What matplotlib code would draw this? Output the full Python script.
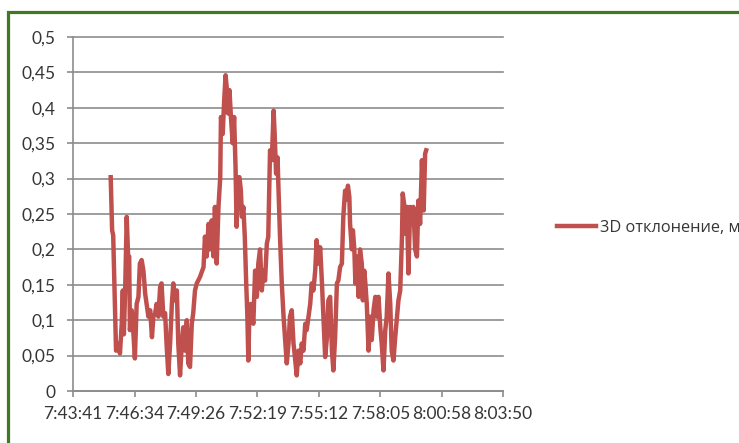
import matplotlib
matplotlib.use('Agg')
import matplotlib.pyplot as plt
from matplotlib.patches import Rectangle

plt.rcParams['font.family'] = ['Lato', 'Noto Sans', 'DejaVu Sans']

# time in seconds after 7:43:41
t_sec = [106, 110, 113, 118, 121, 128, 132, 137, 140, 143, 147, 151, 155, 158, 160, 165, 170, 174, 179, 184,
         188, 193, 198, 203, 207, 212, 217, 222, 226, 231, 235, 240, 245, 249, 254, 259, 263, 268, 273, 278,
         282, 287, 292, 296, 301, 306, 310, 315, 320, 324, 329, 334, 338, 343, 348, 357, 367, 371, 376, 381,
         385, 390, 395, 399, 404, 409, 414, 416, 421, 425, 429, 432, 436, 440, 444, 449, 453, 457, 460, 465,
         468, 472, 475, 479, 483, 487, 490, 493, 496, 500, 504, 507, 512, 517, 521, 526, 531, 535, 540, 545,
         549, 554, 559, 564, 567, 571, 575, 578, 582, 587, 592, 596, 601, 606, 610, 615, 620, 624, 629, 634,
         639, 643, 648, 653, 657, 662, 667, 671, 676, 681, 685, 690, 695, 700, 704, 709, 714, 718, 723, 728,
         732, 737, 742, 746, 751, 756, 760, 765, 770, 773,
         777, 779, 784, 787, 791, 794, 798, 803, 807, 812, 815, 819, 822, 826, 831, 836, 840, 845, 850, 854,
         859, 864, 868, 873, 878, 882, 887, 892, 896, 901, 906, 911, 915, 920, 925, 927, 931, 935, 939, 943,
         948, 953, 957, 962, 967, 971, 976, 981, 986, 990, 993]

# 3D deviation, m
dev_3d = [0.302, 0.227, 0.22, 0.12, 0.057, 0.067, 0.053, 0.095, 0.142, 0.08,
          0.15, 0.246, 0.19, 0.19, 0.086, 0.114, 0.08, 0.046, 0.123, 0.133,
          0.18, 0.185, 0.17, 0.137, 0.123, 0.105, 0.114, 0.076, 0.105, 0.11,
          0.123, 0.105, 0.147, 0.152, 0.105, 0.11, 0.067, 0.024, 0.067, 0.123,
          0.152, 0.128, 0.142, 0.067, 0.022, 0.067, 0.09, 0.057, 0.1, 0.039,
          0.034, 0.095, 0.11, 0.142, 0.152, 0.161, 0.175, 0.218, 0.19, 0.236,
          0.2, 0.241, 0.19, 0.26, 0.18, 0.26, 0.302, 0.387, 0.363, 0.41,
          0.446, 0.43, 0.392, 0.425, 0.387, 0.35, 0.387, 0.316, 0.232, 0.302,
          0.302, 0.283, 0.246, 0.26, 0.218, 0.152, 0.11, 0.043, 0.11, 0.123,
          0.105, 0.095, 0.17, 0.133, 0.18, 0.2, 0.142, 0.17, 0.156, 0.208,
          0.218, 0.34, 0.326, 0.396, 0.363, 0.307, 0.33, 0.283, 0.218, 0.152,
          0.105, 0.076, 0.039, 0.067, 0.105, 0.114, 0.067, 0.048, 0.022, 0.057,
          0.039, 0.067, 0.057, 0.095, 0.086, 0.105, 0.123, 0.152, 0.142, 0.17,
          0.213, 0.18, 0.203, 0.152, 0.105, 0.048, 0.076, 0.128, 0.133, 0.057,
          0.029, 0.076, 0.152, 0.156, 0.175, 0.18, 0.246, 0.283, 0.27, 0.29,
          0.274, 0.236, 0.2, 0.227, 0.2, 0.152, 0.19, 0.133, 0.2, 0.18,
          0.128, 0.17, 0.152, 0.123, 0.057, 0.105, 0.072, 0.114, 0.133, 0.105,
          0.133, 0.09, 0.067, 0.029, 0.086, 0.105, 0.166, 0.123, 0.057, 0.043,
          0.076, 0.105, 0.128, 0.142, 0.218, 0.279, 0.264, 0.222, 0.26, 0.166,
          0.26, 0.246, 0.26, 0.2, 0.19, 0.269, 0.236, 0.326, 0.255, 0.335,
          0.34]

x_ticklabels = ['7:43:41', '7:46:34', '7:49:26', '7:52:19', '7:55:12', '7:58:05', '8:00:58', '8:03:50']
y_ticks = [0, 0.05, 0.1, 0.15, 0.2, 0.25, 0.3, 0.35, 0.4, 0.45, 0.5]
y_ticklabels = ['0', '0,05', '0,1', '0,15', '0,2', '0,25', '0,3', '0,35', '0,4', '0,45', '0,5']
series_name = '3D отклонение, м'


def hms_to_sec(s):
    h, m, sec = (int(p) for p in s.split(':'))
    return h * 3600 + m * 60 + sec


t0 = hms_to_sec(x_ticklabels[0])
x_ticks = [hms_to_sec(s) - t0 for s in x_ticklabels]

grey = '#8c8c8c'
txt = '#363636'

fig = plt.figure(figsize=(7.39, 4.43), dpi=100)
ax = fig.add_axes([73 / 739, 1 - 391 / 443, 430 / 739, 354 / 443])

line, = ax.plot(t_sec, dev_3d, color='#C0504D', lw=3.2, solid_joinstyle='round',
                label=series_name, zorder=3)

ax.set_xlim(x_ticks[0], x_ticks[-1])
ax.set_ylim(0, 0.5)
ax.set_xticks(x_ticks)
ax.set_xticklabels(x_ticklabels)
ax.set_yticks(y_ticks)
ax.set_yticklabels(y_ticklabels)

ax.yaxis.grid(True, color=grey, lw=1.2)
for gl in ax.get_ygridlines():
    gl.set_clip_on(False)
ax.set_axisbelow(True)
for s in ['top', 'right']:
    ax.spines[s].set_visible(False)
for s in ['left', 'bottom']:
    ax.spines[s].set_color(grey)
    ax.spines[s].set_linewidth(1.2)
ax.tick_params(axis='both', colors=grey, labelcolor=txt, labelsize=12.5, length=4.5, width=1.2)
ax.tick_params(axis='y', pad=8)
ax.tick_params(axis='x', pad=6)

leg = ax.legend(handles=[line], loc='center left', bbox_to_anchor=(557 / 739, 1 - 228 / 443),
                bbox_transform=fig.transFigure, frameon=False, borderpad=0, borderaxespad=0,
                handlelength=2.4, handletextpad=0.2,
                prop={'family': ['Open Sans', 'Noto Sans'], 'size': 11.8})
for t in leg.get_texts():
    t.set_color(txt)

# green frame around the chart (runs off the right and bottom edges)
fig.add_artist(Rectangle((8 / 739, -0.5), 2, 1 - 12 / 443 + 0.5, transform=fig.transFigure,
                         fill=False, edgecolor='#3d7a22', lw=2.3, clip_on=False))

fig.savefig('out.png', dpi=100)
